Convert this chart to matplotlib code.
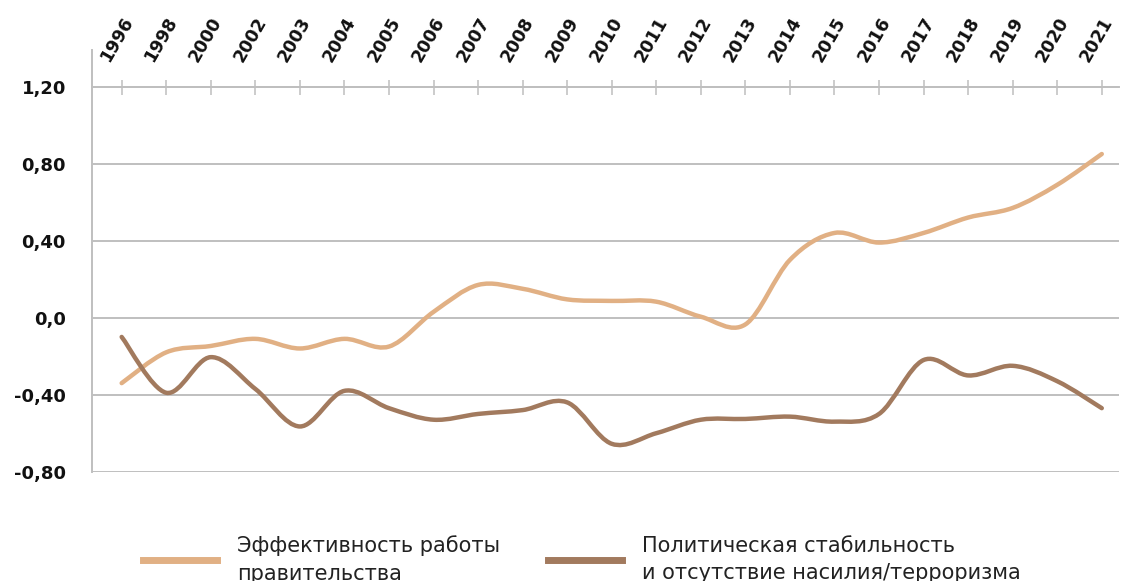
import matplotlib
matplotlib.use("Agg")
import matplotlib.pyplot as plt
import matplotlib.transforms as mtransforms
from matplotlib.path import Path
from matplotlib.patches import PathPatch
from matplotlib.lines import Line2D
import numpy as np

years = ['1996', '1998', '2000', '2002', '2003', '2004', '2005', '2006', '2007',
         '2008', '2009', '2010', '2011', '2012', '2013', '2014', '2015', '2016',
         '2017', '2018', '2019', '2020', '2021']

gov_effectiveness = [-0.34, -0.18, -0.147, -0.11, -0.16, -0.11, -0.15, 0.03, 0.17,
                     0.15, 0.095, 0.087, 0.083, 0.005, -0.035, 0.30, 0.44, 0.39,
                     0.44, 0.52, 0.57, 0.69, 0.85]

political_stability = [-0.10, -0.39, -0.205, -0.37, -0.565, -0.38, -0.47, -0.53, -0.50,
                       -0.48, -0.44, -0.655, -0.60, -0.53, -0.526, -0.514, -0.54, -0.50,
                       -0.22, -0.30, -0.25, -0.33, -0.47]

y_ticks = [-0.8, -0.4, 0.0, 0.4, 0.8, 1.2]
y_tick_labels = ['-0,80', '-0,40', '0,0', '0,40', '0,80', '1,20']

series_labels = ['Эффективность работы\nправительства',
                 'Политическая стабильность\nи отсутствие насилия/терроризма']
colors = ['#E1B084', '#A27A5E']

GRID = '#BFBFBF'


def smooth_path(xs, ys):
    """Excel-style smoothed line: cubic Bezier through the data points."""
    pts = np.column_stack([xs, ys]).astype(float)
    n = len(pts)
    verts = [pts[0]]
    codes = [Path.MOVETO]
    for i in range(n - 1):
        p0 = pts[i - 1] if i > 0 else pts[i]
        p1 = pts[i]
        p2 = pts[i + 1]
        p3 = pts[i + 2] if i + 2 < n else pts[i + 1]
        c1 = p1 + (p2 - p0) / 6.0
        c2 = p2 - (p3 - p1) / 6.0
        verts += [c1, c2, p2]
        codes += [Path.CURVE4] * 3
    return Path(verts, codes)


fig = plt.figure(figsize=(11.21, 5.81), dpi=100)
ax = fig.add_axes([0.0823, 0.1881, 0.9982 - 0.0823, 0.9139 - 0.1881])

x = np.arange(len(years))
for vals, col in zip([gov_effectiveness, political_stability], colors):
    patch = PathPatch(smooth_path(x, vals), fill=False, edgecolor=col, lw=3.2,
                      capstyle='round', joinstyle='round', transform=ax.transData,
                      zorder=3)
    ax.add_patch(patch)

ax.set_xlim(-0.66, 22.386)
ax.set_ylim(-0.8, 1.39)

ax.set_yticks(y_ticks)
ax.set_yticklabels(y_tick_labels, fontweight='bold', fontsize=13, color='#111111')
ax.tick_params(axis='y', length=0, pad=19)
ax.yaxis.grid(True, color=GRID, lw=1.4)
ax.set_axisbelow(True)

for s in ['right', 'bottom']:
    ax.spines[s].set_visible(False)
ax.spines['left'].set_color(GRID)
ax.spines['left'].set_linewidth(1.4)
ax.spines['top'].set_position(('data', 1.2))
ax.spines['top'].set_color(GRID)
ax.spines['top'].set_linewidth(1.4)

ax.xaxis.set_ticks_position('top')
ax.set_xticks(x)
ax.set_xticklabels(years, rotation=60, fontweight='bold', fontsize=12.5, color='#111111')
ax.tick_params(axis='x', direction='inout', length=10.8, width=1.1, color=GRID, pad=10.5)
offset = mtransforms.ScaledTranslation(-0.05, 0, fig.dpi_scale_trans)
for lab in ax.get_xticklabels():
    lab.set_transform(lab.get_transform() + offset)

legend_x = [143 / 1121, 548 / 1121]
legend_y = (581 - 559.5) / 581
for lab, col, lx in zip(series_labels, colors, legend_x):
    h = Line2D([], [], color=col, lw=5)
    leg = fig.legend([h], [lab], loc='center left', bbox_to_anchor=(lx, legend_y),
                     frameon=False, fontsize=15, handlelength=3.55,
                     handletextpad=0.95, borderpad=0, borderaxespad=0)
    for t in leg.get_texts():
        t.set_linespacing(1.45)
        t.set_color('#222222')

fig.savefig('out.png', dpi=100)
